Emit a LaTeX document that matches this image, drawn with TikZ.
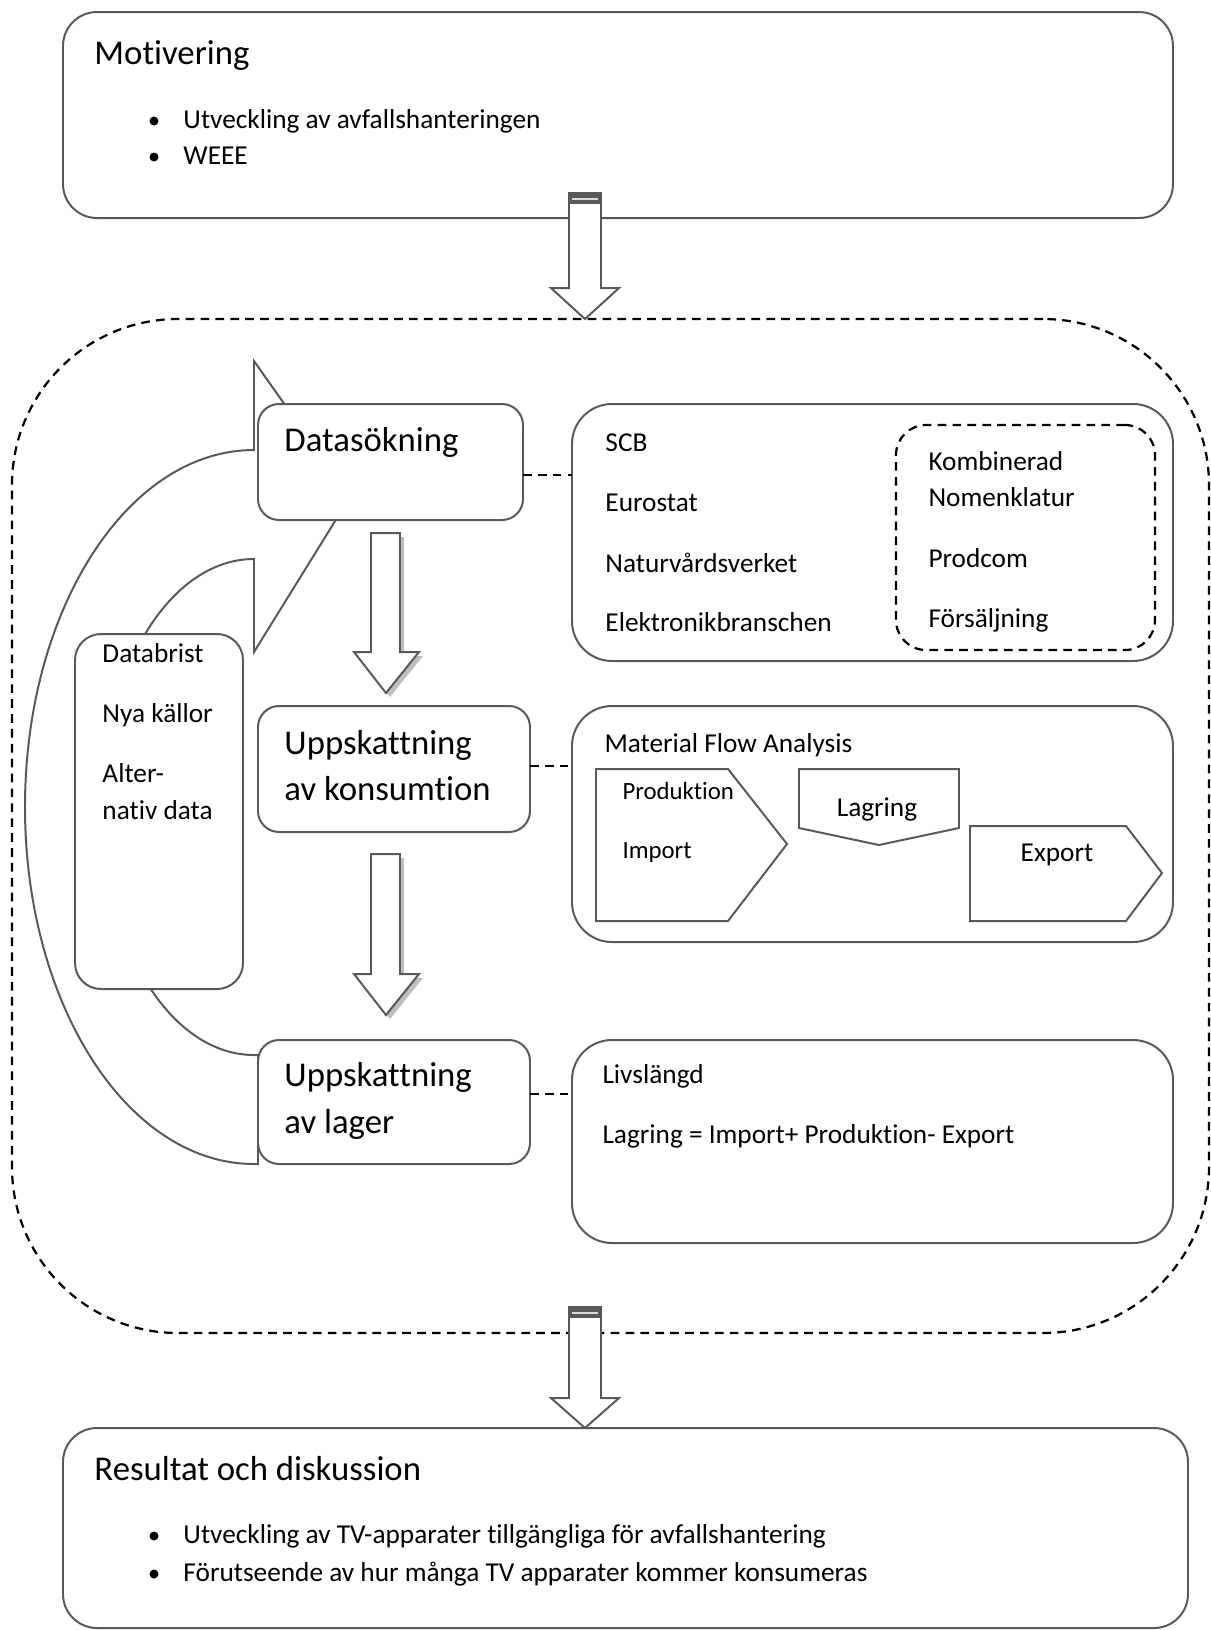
\documentclass[tikz,border=0pt]{standalone}
\usepackage{fontspec}
\setmainfont{Carlito}[Ligatures={NoCommon,NoRequired,NoContextual}]
\usetikzlibrary{positioning}
\definecolor{linegray}{RGB}{89,89,89}
\newlength{\pxu}
\setlength{\pxu}{0.403pt}
\tikzset{
  box/.style={draw=linegray, line width=0.8pt, fill=white, rectangle, inner sep=0pt, outer sep=0pt, rounded corners=#1},
  box/.default=21*\pxu,
  dashbox/.style={draw=black, line width=0.9pt, dash pattern=on 3.5pt off 2.5pt, rectangle, inner sep=0pt, outer sep=0pt, rounded corners=#1},
  dashline/.style={draw=black, line width=0.9pt, dash pattern=on 3.5pt off 2.5pt},
  arrowline/.style={draw=linegray, line width=0.8pt, fill=white, line join=miter},
  txt/.style={anchor=base west, inner sep=0pt, font=\fontsize{11}{13}\selectfont},
  bigtxt/.style={txt, font=\fontsize{14}{17}\selectfont},
  smalltxt/.style={txt, font=\fontsize{10}{12}\selectfont},
  dot/.style={circle, fill=black, inner sep=0pt, minimum size=9*\pxu}
}
\begin{document}
\begin{tikzpicture}[x=0.403pt, y=-0.403pt]
    \useasboundingbox (0,0) rectangle (1211,1630);

    \node[dashbox=166*\pxu, minimum width=1197*\pxu, minimum height=1014*\pxu] (frame) at (610.5,826) {};

    \draw[arrowline] (254,1164) arc[start angle=90, end angle=270, x radius=229, y radius=357]
        -- (254,361) -- (350,497) -- (254,652) -- (254,559)
        arc[start angle=270, end angle=90, x radius=152, y radius=248] -- (258,1055) -- (258,1164) -- cycle;

    \node[box=34*\pxu, minimum width=1110*\pxu, minimum height=206*\pxu] (motiv) at (618,115) {};
    \node[box, minimum width=265*\pxu, minimum height=116*\pxu] (search) at (390.5,462) {};
    \node[box, minimum width=272*\pxu, minimum height=126*\pxu] (consume) at (394,769) {};
    \node[box, minimum width=272*\pxu, minimum height=124*\pxu] (stock) at (394,1102) {};
    \node[box=26*\pxu, minimum width=168*\pxu, minimum height=355*\pxu] (lack) at (159,811.5) {};
    \node[box=40*\pxu, minimum width=601*\pxu, minimum height=257*\pxu] (sources) at (872.5,532.5) {};
    \node[dashbox=30*\pxu, minimum width=259*\pxu, minimum height=225*\pxu] (combined) at (1025.5,537.5) {};
    \node[box=40*\pxu, minimum width=601*\pxu, minimum height=236*\pxu] (mfa) at (872.5,824) {};
    \node[box=40*\pxu, minimum width=601*\pxu, minimum height=203*\pxu] (life) at (872.5,1141.5) {};
    \node[box=34*\pxu, minimum width=1125*\pxu, minimum height=200*\pxu] (result) at (625.5,1528) {};

    \draw[dashline] (search.east |- 0,475) -- (sources.west |- 0,475);
    \draw[dashline] (consume.east |- 0,766) -- (mfa.west |- 0,766);
    \draw[dashline] (stock.east |- 0,1094) -- (life.west |- 0,1094);

    \foreach \t/\h/\e in {193/288/319, 1307/1398/1428} {
        \draw[arrowline] (569,\t) -- (601,\t) -- (601,\h) -- (619,\h) -- (585,\e) -- (551,\h) -- (569,\h) -- cycle;
        \fill[linegray] (569,\t) rectangle (601,\t+11);
        \draw[black!15, line width=0.8pt] (572,\t+6) -- (598,\t+6);
    }
    \foreach \t/\h/\e in {533/652/693, 854/974/1015} {
        \fill[black!25, shift={(4,4)}] (371,\t) -- (400,\t) -- (400,\h) -- (419,\h) -- (386,\e) -- (354,\h) -- (371,\h) -- cycle;
        \draw[arrowline] (371,\t) -- (400,\t) -- (400,\h) -- (419,\h) -- (386,\e) -- (354,\h) -- (371,\h) -- cycle;
    }

    \draw[arrowline] (596,769) -- (728,769) -- (787,844) -- (728,921) -- (596,921) -- cycle;
    \draw[arrowline] (799,769) -- (959,769) -- (959,828) -- (879,845) -- (799,828) -- cycle;
    \draw[arrowline] (970,826) -- (1126,826) -- (1162,873) -- (1126,921) -- (970,921) -- cycle;

    \node[bigtxt] (motivtitle) at (94,64) {Motivering};
    \node[dot] (motivdot1) at (154,121) {};
    \node[txt] (motivitem1) at (183,128) {Utveckling av avfallshanteringen};
    \node[dot] (motivdot2) at (154,157) {};
    \node[txt] (motivitem2) at (183,164) {WEEE};

    \node[bigtxt] (searchtxt) at (284,451) {Datasökning};
    \node[bigtxt] (consumetxt1) at (284,754) {Uppskattning};
    \node[bigtxt] (consumetxt2) at (284,800) {av konsumtion};
    \node[bigtxt] (stocktxt1) at (284,1086) {Uppskattning};
    \node[bigtxt] (stocktxt2) at (284,1133) {av lager};

    \node[txt] (lack1) at (102,662) {Databrist};
    \node[txt] (lack2) at (102,722) {Nya källor};
    \node[txt] (lack3) at (102,782) {Alter-};
    \node[txt] (lack4) at (102,819) {nativ data};

    \node[txt] (src1) at (605,451) {SCB};
    \node[txt] (src2) at (605,511) {Eurostat};
    \node[txt] (src3) at (605,572) {Naturvårdsverket};
    \node[txt] (src4) at (605,631) {Elektronikbranschen};
    \node[txt] (comb1) at (928,470) {Kombinerad};
    \node[txt] (comb2) at (928,506) {Nomenklatur};
    \node[txt] (comb3) at (928,567) {Prodcom};
    \node[txt] (comb4) at (928,627) {Försäljning};

    \node[txt] (mfatitle) at (604,752) {Material Flow Analysis};
    \node[smalltxt] (prodtxt) at (622,799) {Produktion};
    \node[smalltxt] (importtxt) at (622,858) {Import};
    \node[txt, anchor=base] (storetxt) at (877,816) {Lagring};
    \node[txt, anchor=base] (exporttxt) at (1057,861) {Export};

    \node[txt] (lifetxt1) at (602,1083) {Livslängd};
    \node[txt] (lifetxt2) at (602,1143) {Lagring = Import+ Produktion- Export};

    \node[bigtxt] (resulttitle) at (94,1480) {Resultat och diskussion};
    \node[dot] (resultdot1) at (154,1536) {};
    \node[txt] (resultitem1) at (183,1543) {Utveckling av TV-apparater tillgängliga för avfallshantering};
    \node[dot] (resultdot2) at (154,1574) {};
    \node[txt] (resultitem2) at (183,1581) {Förutseende av hur många TV apparater kommer konsumeras};
\end{tikzpicture}
\end{document}
